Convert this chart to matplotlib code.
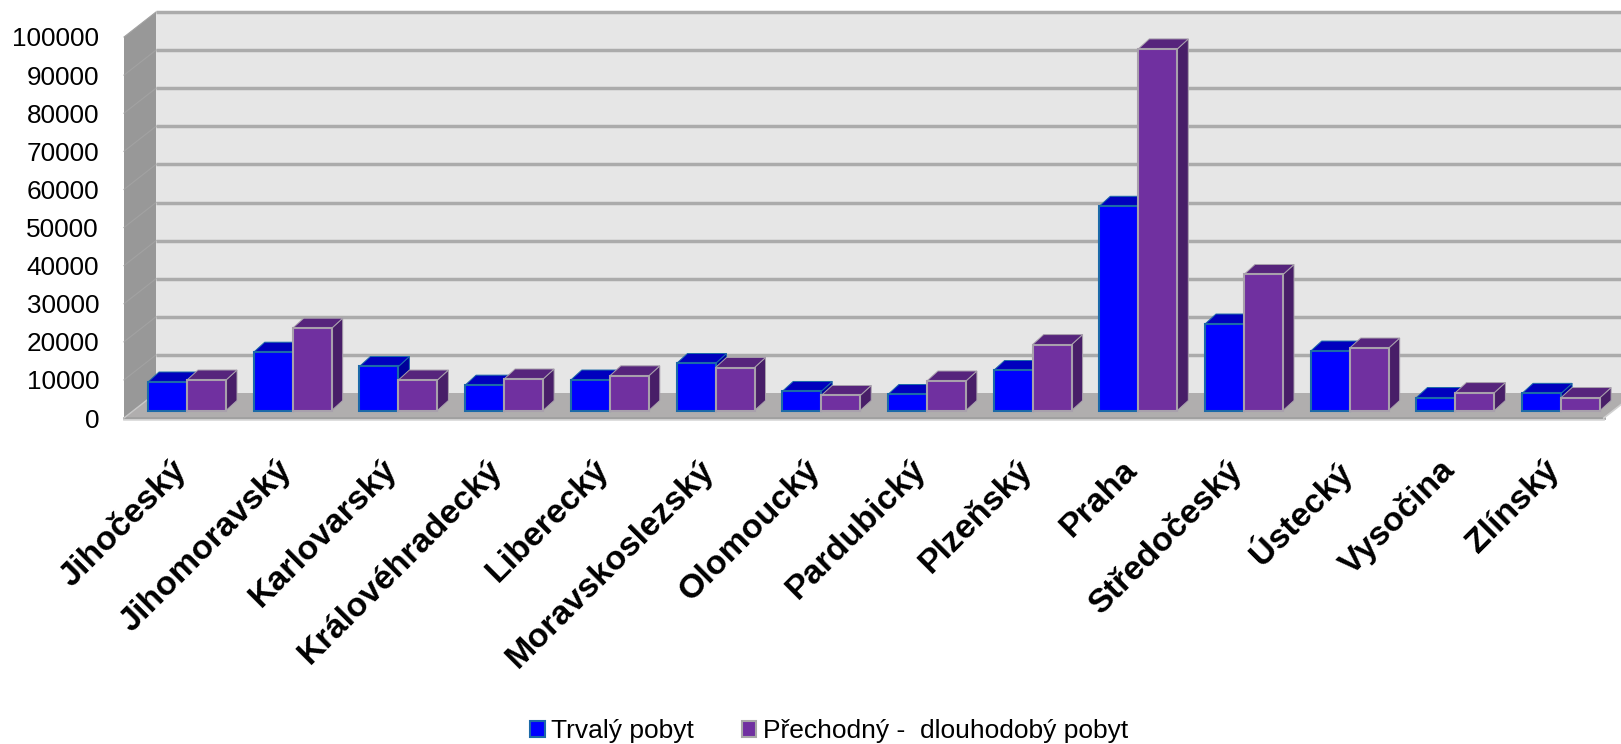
import matplotlib
matplotlib.use("Agg")
import matplotlib.pyplot as plt
from matplotlib.patches import Polygon, Patch

categories = ["Jihočeský", "Jihomoravský", "Karlovarský", "Královéhradecký", "Liberecký",
              "Moravskoslezský", "Olomoucký", "Pardubický", "Plzeňský", "Praha",
              "Středočeský", "Ústecký", "Vysočina", "Zlínský"]
trvaly = [7480, 15300, 11550, 6650, 8000, 12340, 5000, 4200, 10500, 53600, 22700, 15600, 3400, 4500]
prechodny = [8000, 21600, 8000, 8270, 9100, 11280, 3940, 7740, 17300, 94900, 35700, 16400, 4700, 3400]
y_ticks = [0, 10000, 20000, 30000, 40000, 50000, 60000, 70000, 80000, 90000, 100000]
series_names = ["Trvalý pobyt", "Přechodný -  dlouhodobý pobyt"]

W, H = 1621, 744
PX_PER_GROUP = 105.7
PX_PER_VAL = 38.1 / 10000
X0_PX, BASE_PX = 187, 410.5
BAR_W = 39 / PX_PER_GROUP

plt.rcParams["font.family"] = ["Liberation Sans", "DejaVu Sans"]
fig = plt.figure(figsize=(W / 100, H / 100), dpi=100)
ax = fig.add_axes([0, 0, 1, 1])
ax.set_xlim((0 - X0_PX) / PX_PER_GROUP, (W - X0_PX) / PX_PER_GROUP)
ax.set_ylim((BASE_PX - H) / PX_PER_VAL, BASE_PX / PX_PER_VAL)
ax.axis("off")

def dx(px):
    return px / PX_PER_GROUP
def dv(px):
    return px / PX_PER_VAL

# planes relative to bars' plane
fx, fv = dx(-10), dv(-7.5)    # front edge of the floor
bx, bv = dx(22), dv(17.5)     # back wall
xl = -X0_PX / PX_PER_GROUP + dx(134)      # left end of bars' plane
xr = xl + len(categories)
vmax = y_ticks[-1]

WALL, SIDE, FLOOR, GRID = "#E6E6E6", "#989898", "#B0AEAE", "#ABABAB"
ax.add_patch(Polygon([(xl + bx, bv), (xr + bx, bv), (xr + bx, vmax + bv), (xl + bx, vmax + bv)],
                     fc=WALL, ec="none", zorder=1))
ax.add_patch(Polygon([(xl + fx, fv), (xl + bx, bv), (xl + bx, vmax + bv), (xl + fx, vmax + fv)],
                     fc=SIDE, ec="none", zorder=1))
ax.add_patch(Polygon([(xl + fx, fv), (xr + fx, fv), (xr + bx, bv), (xl + bx, bv)],
                     fc=FLOOR, ec="none", zorder=2))
for v in y_ticks:
    if v > 0:
        ax.plot([xl + bx, xr + bx], [v + bv, v + bv], color=GRID, lw=2.5, zorder=1.5, solid_capstyle="butt")
        ax.plot([xl + fx, xl + bx], [v + fv, v + bv], color="#A2A2A2", lw=0.8, zorder=1.5)
    ax.text(dx(99) - X0_PX / PX_PER_GROUP, v + fv, str(v), ha="right", va="center_baseline",
            fontsize=18.8, color="black", zorder=5)
ax.plot([xl + fx, xr + fx], [fv, fv], color="#A0A0A0", lw=2.0, zorder=2.5)
ax.plot([xl + fx, xr + fx], [fv - dv(2), fv - dv(2)], color="#D8D8D8", lw=1.2, zorder=2.5)
ax.plot([xr + fx, xr + bx], [fv, bv], color="#D0D0D0", lw=1.2, zorder=2.5)
ax.plot([xl + fx, xl + bx], [fv, bv], color="#C8C8C8", lw=1.0, zorder=2.5)

# 3-D box depth
ddx, ddv = dx(11), dv(10)
styles = [
    dict(face="#0000FF", edge="#1C6AA8", top="#0000BE", side="#00009A", offs=-BAR_W / 2),
    dict(face="#7030A0", edge="#A8A0AC", top="#56247C", side="#481E68", offs=BAR_W / 2),
]
z = 3.0
for i in range(len(categories)):
    for vals, st in zip((trvaly, prechodny), styles):
        c = i + st["offs"]
        v = vals[i]
        l, r = c - BAR_W / 2, c + BAR_W / 2
        ax.add_patch(Polygon([(r, 0), (r + ddx, ddv), (r + ddx, v + ddv), (r, v)],
                             fc=st["side"], ec=st["edge"], lw=0.7, zorder=z))
        ax.add_patch(Polygon([(l, v), (r, v), (r + ddx, v + ddv), (l + ddx, v + ddv)],
                             fc=st["top"], ec=st["edge"], lw=0.7, zorder=z + 0.01))
        ax.bar(c, v, width=BAR_W, color=st["face"], edgecolor=st["edge"], linewidth=1.5, zorder=z + 0.02)
        z += 0.03

for i, name in enumerate(categories):
    ax.text(i + dx(-17), dv(-43.5), name, rotation=45, rotation_mode="anchor", ha="right", va="top",
            fontsize=24.5, fontweight="bold", color="black", zorder=5)

handles = [Patch(fc=styles[0]["face"], ec=styles[0]["edge"], lw=1.5),
           Patch(fc=styles[1]["face"], ec="#A8A8A8", lw=1.5)]
ax.legend(handles, series_names, ncol=2, frameon=False, fontsize=19,
          loc="center", bbox_to_anchor=(829 / W, 1 - 731 / H), bbox_transform=fig.transFigure,
          handlelength=0.55, handleheight=0.55, handletextpad=0.25, columnspacing=1.8,
          borderpad=0, borderaxespad=0)

fig.savefig("out.png", dpi=100)
